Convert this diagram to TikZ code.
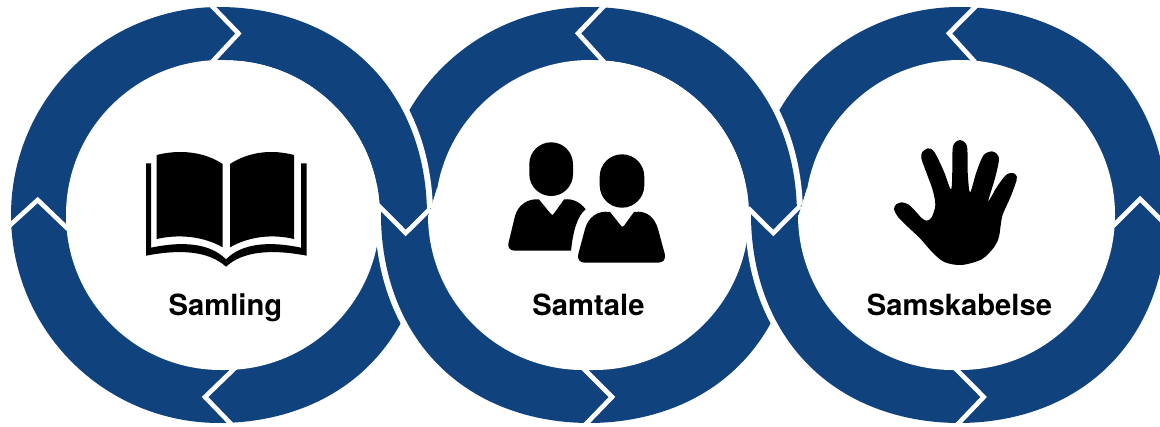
\documentclass[tikz,border=0pt]{standalone}
\usepackage{fontspec}
\setmainfont{TeX Gyre Heros}
\definecolor{ringblue}{HTML}{10427E}
\tikzset{
  declare function={ringr(\t,\b)=208+sin(2*\t)*sin(2*\t)*(4.5*(cos(\t)>0)+\b*(cos(\t)<0)*(sin(\t)>0));},
  halo/.style={draw=white,line width=12pt,line join=round},
  chevron/.style={draw=white,line width=4.6pt,line join=miter,miter limit=6},
  label/.style={font=\fontsize{29.2}{31}\selectfont\bfseries,anchor=base,inner sep=0pt,text=black},
  icon/.style={fill=black,draw=none}
}
% #1 centre x, #2 lower-left bulge
\newcommand{\ringout}[2]{plot[domain=0:360,samples=181] ({#1+ringr(\x,#2)*cos(\x)},{215+ringr(\x,#2)*sin(\x)}) -- cycle}
% upper-left centre, right centre, lower-left centre of the white inner area
\newcommand{\ringin}[3]{({#1-155},215) .. controls ({#1-155},129.4) and ({#1-85.6},60) .. (#1,60) -- (#2,60)
  .. controls ({#2+85.6},60) and ({#2+155},129.4) .. ({#2+155},215)
  .. controls ({#2+155},300.6) and ({#2+85.6},370) .. (#2,370) -- (#3,370)
  .. controls ({#3-85.6},370) and ({#3-155},300.6) .. ({#3-155},215) -- cycle}
% base ring with halo: #1 centre, #2 bulge, #3-#5 inner centres
\newcommand{\ringbase}[5]{%
  \path[halo] \ringout{#1}{#2};
  \fill[ringblue] \ringout{#1}{#2};
  \fill[white] \ringin{#3}{#4}{#5};
  \fill[white] ({#5-155},217) -- ({#3-153},188) -- ({#3-140},217) -- cycle;}
% upper part repainted over the neighbour, ring only
\newcommand{\ringtop}[5]{%
  \path[halo] \ringout{#1}{#2};
  \fill[ringblue,even odd rule] \ringout{#1}{#2} \ringin{#3}{#4}{#5};}
\begin{document}
\begin{tikzpicture}[x=1pt,y=-1pt]
\useasboundingbox (0,0) rectangle (1160,426);
\clip (0,0) rectangle (1160,426);
\fill[white] (0,0) rectangle (1160,426);
% base rings, each over the previous one
\fill[ringblue] \ringout{219}{0};
\fill[white] \ringin{221}{225}{221};
\ringbase{589}{4.5}{590}{594}{583}
\ringbase{959}{4.5}{960}{960}{953}
% upper right of each ring passes back over its neighbour
\begin{scope}
  \clip (225,-10) -- (445,-10) -- (445,193.5) -- (405.7,233) -- (378,205) -- (225,205) -- cycle;
  \ringtop{219}{0}{221}{225}{221}
\end{scope}
\begin{scope}
  \clip (595,-10) -- (815,-10) -- (815,191.5) -- (773.3,233) -- (748,208) -- (595,208) -- cycle;
  \ringtop{589}{4.5}{590}{594}{583}
\end{scope}
% white chevrons
\coordinate (a1) at (211,5);   \coordinate (a2) at (238.5,33.5);\coordinate (a3) at (212,62);
\coordinate (b1) at (8,227);   \coordinate (b2) at (37.7,200);  \coordinate (b3) at (68,229);
\coordinate (c1) at (236,367); \coordinate (c2) at (205,397);   \coordinate (c3) at (233,426);
\coordinate (d1) at (378,205); \coordinate (d2) at (405.7,233); \coordinate (d3) at (430,209);
\coordinate (e1) at (605,5);   \coordinate (e2) at (578,33.3);  \coordinate (e3) at (604,62);
\coordinate (f1) at (583,368); \coordinate (f2) at (612,397);   \coordinate (f3) at (584,426);
\coordinate (g1) at (748,208); \coordinate (g2) at (773.3,233); \coordinate (g3) at (800,206);
\coordinate (h1) at (977,5);   \coordinate (h2) at (949,33.3);  \coordinate (h3) at (975,62);
\coordinate (i1) at (955,368); \coordinate (i2) at (983.7,397); \coordinate (i3) at (956,426);
\coordinate (j1) at (1113,226);\coordinate (j2) at (1140,199);  \coordinate (j3) at (1170,229);
\foreach \n in {a,b,c,d,e,f,g,h,i,j} \draw[chevron] (\n1) -- (\n2) -- (\n3);
% book
\fill[icon] (156.7,155) .. controls (178,149.5) and (203,151) .. (222.7,164) -- (222.7,247.3)
  .. controls (203,236) and (178,234) .. (156.7,239) -- cycle;
\fill[icon] (230,164) .. controls (250,151) and (273,149.5) .. (294,155) -- (294,239)
  .. controls (273,234) and (250,236) .. (230,247.3) -- cycle;
\fill[icon] (146,163.3) -- (151,163.3) -- (151,247.7) .. controls (182,241) and (210,243) .. (226,259.3)
  .. controls (242,243) and (270,241) .. (301,247.7) -- (301,163.3) -- (306.7,163.3) -- (306.7,255.7)
  .. controls (272,249) and (243,251) .. (226,266.7) .. controls (209,251) and (180,249) .. (146,255.7) -- cycle;
% people
\fill[icon,rounded corners=21.8pt] (529.3,142.3) rectangle (573,196);
\fill[icon] (539,199.5) -- (550.5,213.5) .. controls (551.8,215.5) and (552.8,215.5) .. (554,213.5) -- (564,199.5)
  .. controls (573,198) and (581,203) .. (585.7,209.3) .. controls (577,216) and (573,232) .. (571,250.7)
  -- (515,250.7) .. controls (510,250.7) and (507.5,247.5) .. (508.5,243) -- (515,216)
  .. controls (518,205) and (528,198) .. (539,199.5) -- cycle;
\fill[icon,rounded corners=22.3pt] (599.7,154.3) rectangle (644.3,207.7);
\fill[icon] (610,212) -- (620.8,225.5) .. controls (622,227.3) and (623,227.3) .. (624.2,225.5) -- (634,212)
  .. controls (647,210) and (655,218) .. (658,229) -- (664.8,254) .. controls (666,259.5) and (663,262.7) .. (658,262.7)
  -- (585,262.7) .. controls (580,262.7) and (577,259.5) .. (578.3,254) -- (585,229)
  .. controls (588,218) and (597,210) .. (610,212) -- cycle;
% hand
\begin{scope}[shift={(880,130)},x=0.3333pt,y=-0.3333pt]
\fill[icon] plot[smooth cycle,tension=0.5] coordinates {
  (42,237) (49,223) (65,217) (85,223) (103,240) (125,264) (140,272) (155,262) (166,225) (158,180) (140,130) (124,85)
  (127,66) (143,55) (158,60) (170,78) (192,125) (213,178) (217,120) (218,55) (226,37) (240,30) (254,37) (262,55)
  (263,125) (270,187) (288,130) (304,88) (315,71) (335,64) (350,71) (357,90) (345,145) (325,213) (350,172) (373,140)
  (385,131) (398,129) (408,135) (410,150) (392,200) (367,258) (357,320) (342,352) (305,388) (245,405) (195,397)
  (160,370) (120,325) (85,292) (55,262)};
\end{scope}
% labels
\node[label] (samling) at (225.5,315) {Samling};
\node[label] (samtale) at (588.5,315) {Samtale};
\node[label] (samskabelse) at (959.5,315) {Samskabelse};
\end{tikzpicture}
\end{document}
